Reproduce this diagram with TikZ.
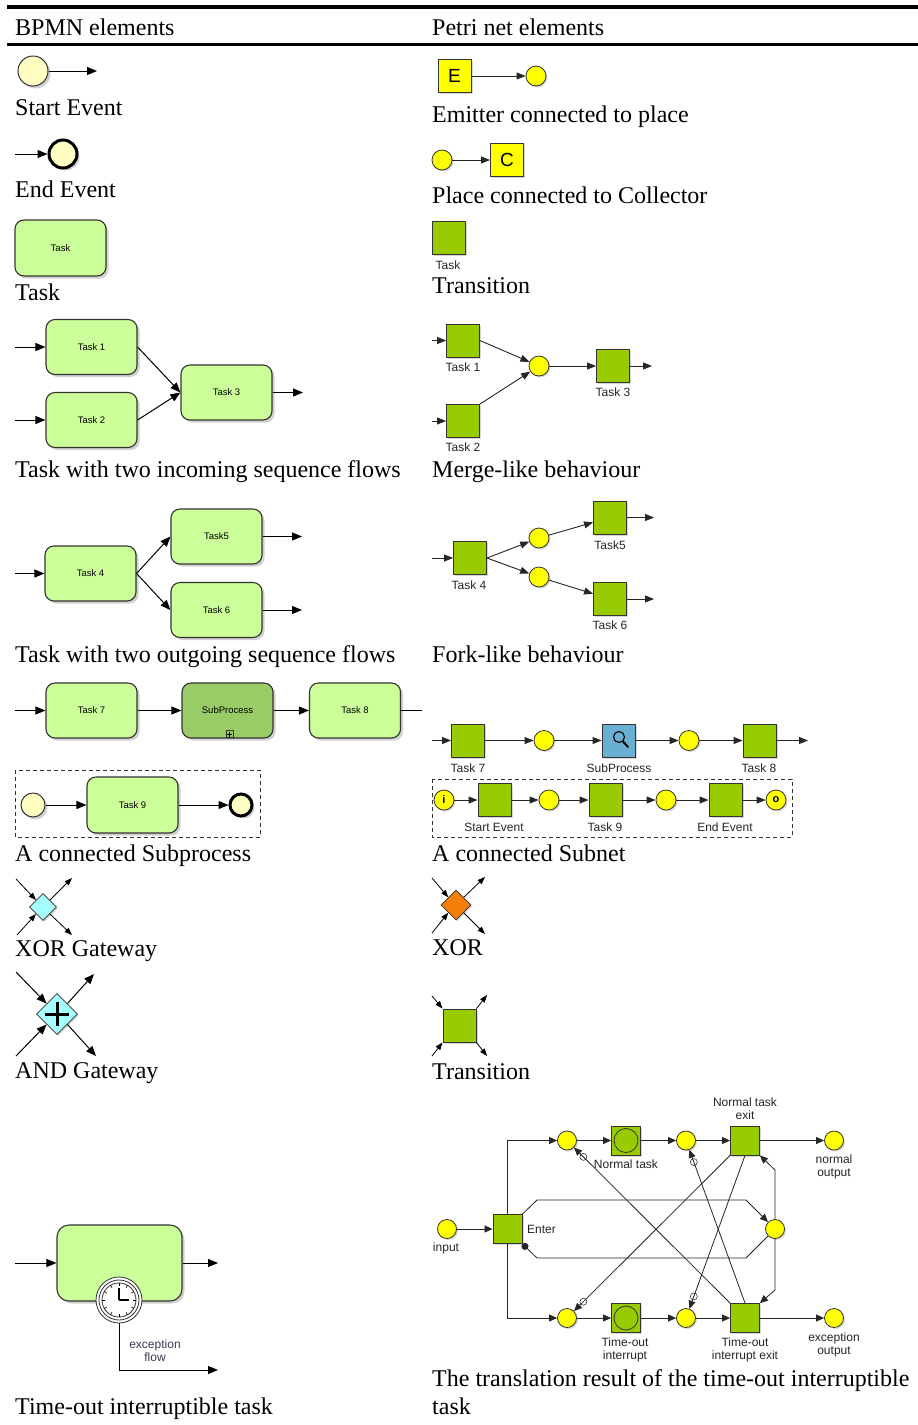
\documentclass[tikz,border=0pt]{standalone}
\usepackage{fontspec}
\setmainfont{Liberation Serif}
\newfontfamily\arialf{Liberation Sans}
\usetikzlibrary{arrows.meta,shapes.geometric,shadows}
\definecolor{bpmntask}{HTML}{CCFF99}
\definecolor{bpmnsub}{HTML}{99CC66}
\definecolor{evfill}{HTML}{FFFFC4}
\definecolor{pgreen}{HTML}{99CC00}
\definecolor{pyellow}{HTML}{FFFF00}
\definecolor{pblue}{HTML}{6AAED2}
\definecolor{gwcyan}{HTML}{A6FFFF}
\definecolor{xororange}{HTML}{F57F0A}
\definecolor{edgec}{HTML}{333333}
\definecolor{lblue}{HTML}{3A3A55}
\tikzset{
  captxt/.style={anchor=base west, inner sep=0pt, font={\fontsize{24}{28}\selectfont}},
  shd/.style={drop shadow={shadow xshift=2.5pt, shadow yshift=-2.5pt, opacity=0.3, fill=black!60}},
  sshd/.style={drop shadow={shadow xshift=1.5pt, shadow yshift=-1.5pt, opacity=0.25, fill=black!60}},
  btask/.style={rectangle, rounded corners=9pt, draw=edgec, line width=1.1pt, fill=bpmntask, minimum width=91pt, minimum height=55pt, inner sep=0pt, font={\arialf\fontsize{9.5}{11}\selectfont}, shd},
  event/.style={circle, draw=edgec, line width=1pt, fill=evfill, inner sep=0pt, minimum size=30pt, shd},
  place/.style={circle, draw=edgec, line width=0.8pt, fill=pyellow, inner sep=0pt, minimum size=20pt, sshd},
  trans/.style={rectangle, draw=edgec, line width=0.9pt, fill=pgreen, inner sep=0pt, minimum size=33pt, sshd},
  plab/.style={inner sep=0pt, align=center, font={\arialf\fontsize{12}{13}\selectfont}, text=black!85},
  arr/.style={-{Triangle[length=10pt,width=8pt]}, line width=1pt, draw=black},
  sarr/.style={-{Triangle[length=7.5pt,width=5.5pt]}, line width=0.8pt, draw=black},
  parr/.style={-{Triangle[length=9pt,width=7pt]}, line width=0.9pt, draw=black!85},
  narr/.style={-{Triangle[length=8pt,width=7pt]}, line width=0.8pt, draw=black!85},
  mk/.style={circle, draw=edgec, inner sep=0pt, minimum size=7pt, line width=0.6pt},
  gwbox/.style={diamond, aspect=1, draw=edgec, line width=0.8pt, inner sep=0pt, sshd},
}
\begin{document}
\begin{tikzpicture}[x=1pt,y=-1pt]
\useasboundingbox (0,0) rectangle (918,1425);
\fill[white] (0,0) rectangle (918,1425);
% header
\draw[line width=4pt] (7,7) -- (918,7);
\draw[line width=2.5pt] (7,44.5) -- (918,44.5);
\node[captxt] (hl) at (15,35) {BPMN elements};
\node[captxt] (hr) at (432,35) {Petri net elements};

% ---------- Start / End / Task (BPMN)
\node[event] (se) at (33,71) {};
\coordinate (seo) at (97,71);
\draw[arr] (se) -- (seo);
\node[captxt] (cse) at (15,115) {Start Event};
\coordinate (eei) at (15,154);
\node[event, minimum size=28pt, line width=3pt, draw=black] (ee) at (63,154) {};
\draw[arr] (eei) -- (ee);
\node[captxt] (cee) at (15,197) {End Event};
\node[btask, minimum height=56pt] (tk) at (60.5,248) {Task};
\node[captxt] (ctk) at (15,300) {Task};

% ---------- Emitter / Collector / Transition (Petri)
\node[trans, fill=pyellow, font={\arialf\fontsize{19}{20}\selectfont}] (em) at (454.5,76) {E};
\node[place] (emp) at (536,76) {};
\draw[parr] (em) -- (emp);
\node[captxt] (cem) at (432,122) {Emitter connected to place};
\node[place] (cop) at (442,160) {};
\node[trans, fill=pyellow, font={\arialf\fontsize{19}{20}\selectfont}] (co) at (507,160) {C};
\draw[parr] (cop) -- (co);
\node[captxt] (cco) at (432,203) {Place connected to Collector};
\node[trans] (tr1) at (449,238) {};
\node[plab] (tr1l) at (448,265) {Task};
\node[captxt] (ctr1) at (432,293) {Transition};

% ---------- Merge (BPMN)
\node[btask] (m1) at (91.5,347) {Task 1};
\node[btask] (m2) at (91.5,420) {Task 2};
\node[btask] (m3) at (226.5,392.5) {Task 3};
\coordinate (m1i) at (15,347);
\coordinate (m2i) at (15,420);
\coordinate (m3o) at (303,392.5);
\draw[arr] (m1i) -- (m1);
\draw[arr] (m2i) -- (m2);
\draw[arr] (m1.east) -- (m3.west);
\draw[arr] (m2.east) -- (m3.west);
\draw[arr] (m3) -- (m3o);
\node[captxt] (cm) at (15,477) {Task with two incoming sequence flows};

% ---------- Merge (Petri)
\node[trans] (pm1) at (463,340.5) {};
\node[trans] (pm2) at (463,421) {};
\node[place] (pmp) at (539,366) {};
\node[trans] (pm3) at (613,366) {};
\node[plab] (pm1l) at (463,367) {Task 1};
\node[plab] (pm2l) at (463,447) {Task 2};
\node[plab] (pm3l) at (613,392) {Task 3};
\coordinate (pm1i) at (432,340.5);
\coordinate (pm2i) at (432,421);
\coordinate (pm3o) at (652,366);
\draw[parr] (pm1i) -- (pm1);
\draw[parr] (pm2i) -- (pm2);
\draw[parr] (pm1.east) -- (pmp);
\draw[parr] (pm2.north east) -- (pmp);
\draw[parr] (pmp) -- (pm3);
\draw[parr] (pm3) -- (pm3o);
\node[captxt] (cpm) at (432,477) {Merge-like behaviour};

% ---------- Fork (BPMN)
\node[btask] (f4) at (90.5,573.5) {Task 4};
\node[btask] (f5) at (216.5,536.5) {Task5};
\node[btask] (f6) at (216.5,610) {Task 6};
\coordinate (f4i) at (15,573.5);
\coordinate (f5o) at (302,536.5);
\coordinate (f6o) at (302,610);
\draw[arr] (f4i) -- (f4);
\draw[arr] (f4.east) -- (f5.west);
\draw[arr] (f4.east) -- (f6.west);
\draw[arr] (f5) -- (f5o);
\draw[arr] (f6) -- (f6o);
\node[captxt] (cf) at (15,662) {Task with two outgoing sequence flows};

% ---------- Fork (Petri)
\node[trans] (pf4) at (470,558) {};
\node[place] (pf1) at (539,538) {};
\node[place] (pf2) at (539,577) {};
\node[trans] (pf5) at (610,517.5) {};
\node[trans] (pf6) at (610,599) {};
\node[plab] (pf4l) at (469,585) {Task 4};
\node[plab] (pf5l) at (610,545) {Task5};
\node[plab] (pf6l) at (610,625) {Task 6};
\coordinate (pf4i) at (432,558);
\coordinate (pf5o) at (654,517.5);
\coordinate (pf6o) at (654,599);
\draw[parr] (pf4i) -- (pf4);
\draw[parr] (pf4.east) -- (pf1);
\draw[parr] (pf4.east) -- (pf2);
\draw[parr] (pf1) -- (pf5);
\draw[parr] (pf2) -- (pf6);
\draw[parr] (pf5) -- (pf5o);
\draw[parr] (pf6) -- (pf6o);
\node[captxt] (cpf) at (432,662) {Fork-like behaviour};

% ---------- Subprocess (BPMN)
\node[btask] (s7) at (91.5,710.5) {Task 7};
\node[btask, fill=bpmnsub] (ssp) at (227.5,710.5) {SubProcess};
\node[btask] (s8) at (355,710.5) {Task 8};
\node[draw=edgec, line width=0.6pt, minimum size=7pt, inner sep=0pt] (splus) at (229.5,734) {};
\draw[line width=0.6pt] (227,734) -- (232,734) (229.5,731.5) -- (229.5,736.5);
\coordinate (s7i) at (15,710.5);
\coordinate (s8o) at (422,710.5);
\draw[arr] (s7i) -- (s7);
\draw[arr] (s7) -- (ssp);
\draw[arr] (ssp) -- (s8);
\draw[line width=1pt] (s8) -- (s8o);
\draw[edgec, line width=0.7pt, dash pattern=on 4pt off 3pt] (15,770) rectangle (260,837);
\node[event, minimum size=24pt] (sse) at (33,805) {};
\node[btask, minimum height=56pt] (s9) at (132.5,805) {Task 9};
\node[event, minimum size=22pt, line width=3pt, draw=black] (see) at (241,805) {};
\draw[arr] (sse) -- (s9);
\draw[arr] (s9) -- (see);
\node[captxt] (cs) at (15,861) {A connected Subprocess};

% ---------- Subnet (Petri)
\node[trans] (n7) at (468,740.5) {};
\node[place] (np1) at (544,740.5) {};
\node[trans, fill=pblue] (nsp) at (618.5,740.5) {};
\draw[line width=1.1pt] (619,737) circle[radius=5.5pt];
\draw[line width=2pt, line cap=round] (623,741.5) -- (628,747);
\node[place] (np2) at (689,740.5) {};
\node[trans] (n8) at (759.5,740.5) {};
\node[plab] (n7l) at (468,768) {Task 7};
\node[plab] (nspl) at (619,768) {SubProcess};
\node[plab] (n8l) at (759,768) {Task 8};
\coordinate (n7i) at (432,740.5);
\coordinate (n8o) at (808,740.5);
\draw[parr] (n7i) -- (n7);
\draw[parr] (n7) -- (np1);
\draw[parr] (np1) -- (nsp);
\draw[parr] (nsp) -- (np2);
\draw[parr] (np2) -- (n8);
\draw[parr] (n8) -- (n8o);
\draw[edgec, line width=0.7pt, dash pattern=on 4pt off 3pt] (432,779) rectangle (792,837);
\node[place, font={\arialf\bfseries\fontsize{11}{12}\selectfont}] (npi) at (444,800) {i};
\node[trans] (nse) at (494.5,800) {};
\node[place] (np3) at (549,800) {};
\node[trans] (n9) at (605.5,800) {};
\node[place] (np4) at (666,800) {};
\node[trans] (nee) at (725.5,800) {};
\node[place, font={\arialf\bfseries\fontsize{11}{12}\selectfont}] (npo) at (776,800) {o};
\node[plab] (nsel) at (494,827) {Start Event};
\node[plab] (n9l) at (605,827) {Task 9};
\node[plab] (neel) at (725,827) {End Event};
\draw[parr] (npi) -- (nse);
\draw[parr] (nse) -- (np3);
\draw[parr] (np3) -- (n9);
\draw[parr] (n9) -- (np4);
\draw[parr] (np4) -- (nee);
\draw[parr] (nee) -- (npo);
\node[captxt] (cn) at (432,861) {A connected Subnet};

% ---------- XOR gateway (BPMN)
\node[gwbox, fill=gwcyan, minimum size=27pt] (xg) at (43,907) {};
\coordinate (xg1) at (16,879);
\coordinate (xg2) at (17,935);
\coordinate (xg3) at (72,878);
\coordinate (xg4) at (72,935);
\draw[sarr] (xg1) -- (xg.north west);
\draw[sarr] (xg2) -- (xg.south west);
\draw[sarr] (xg.north east) -- (xg3);
\draw[sarr] (xg.south east) -- (xg4);
\node[captxt] (cxg) at (15,956) {XOR Gateway};

% ---------- AND gateway (BPMN)
\node[gwbox, fill=gwcyan, minimum size=41pt] (ag) at (57,1014) {};
\draw[line width=3pt] (45,1014) -- (69,1014) (57,1002) -- (57,1026);
\coordinate (ag1) at (16,972);
\coordinate (ag2) at (16,1056);
\coordinate (ag3) at (94,974);
\coordinate (ag4) at (96,1056);
\draw[arr] (ag1) -- (ag.north west);
\draw[arr] (ag2) -- (ag.south west);
\draw[arr] (ag.north east) -- (ag3);
\draw[arr] (ag.south east) -- (ag4);
\node[captxt] (cag) at (15,1078) {AND Gateway};

% ---------- XOR (Petri)
\node[gwbox, fill=xororange, minimum size=30pt] (px) at (456,905) {};
\coordinate (px1) at (432,878);
\coordinate (px2) at (432,933);
\coordinate (px3) at (485,877);
\coordinate (px4) at (485,934);
\draw[sarr] (px1) -- (px.north west);
\draw[sarr] (px2) -- (px.south west);
\draw[sarr] (px.north east) -- (px3);
\draw[sarr] (px.south east) -- (px4);
\node[captxt] (cpx) at (432,955) {XOR};

% ---------- Transition (Petri)
\node[trans] (tr2) at (459.5,1025.5) {};
\coordinate (tr2a) at (432,996);
\coordinate (tr2b) at (432,1056);
\coordinate (tr2c) at (487,995);
\coordinate (tr2d) at (487,1056);
\draw[sarr] (tr2a) -- (tr2.north west);
\draw[sarr] (tr2b) -- (tr2.south west);
\draw[sarr] (tr2.north east) -- (tr2c);
\draw[sarr] (tr2.south east) -- (tr2d);
\node[captxt] (ctr2) at (432,1079) {Transition};

% ---------- Time-out interruptible task (BPMN)
\node[btask, rounded corners=12pt, minimum width=125pt, minimum height=76pt] (tt) at (119.5,1263) {};
\coordinate (tti) at (15,1263);
\coordinate (tto) at (218,1263);
\draw[arr] (tti) -- (tt);
\draw[arr] (tt) -- (tto);
\node[circle, draw=edgec, fill=white, line width=0.8pt, minimum size=46pt, inner sep=0pt] (tmr) at (119,1300) {};
\draw[edgec, line width=0.8pt] (tmr.center) circle[radius=20pt];
\draw[edgec, line width=0.8pt] (tmr.center) circle[radius=17pt];
\foreach \a in {0,30,...,330} \draw[line width=0.6pt] (tmr.center) ++(\a:14pt) -- ++(\a:3pt);
\draw[line width=1.3pt] (tmr.center) -- ++(0,-12);
\draw[line width=1.3pt] (tmr.center) -- ++(10,0);
\coordinate (exc) at (119,1370);
\coordinate (exo) at (218,1370);
\draw[arr] (tmr.south) -- (exc) -- (exo);
\node[plab, text=lblue] (excl) at (155,1351) {exception\\flow};
\node[captxt] (ctt) at (15,1414) {Time-out interruptible task};

% ---------- Time-out net (Petri)
\node[place, minimum size=19pt] (tin) at (447,1229) {};
\node[plab] (tinl) at (446,1248) {input};
\node[trans, minimum size=29pt] (ent) at (507.5,1229) {};
\node[plab, anchor=west] (entl) at (527,1229) {Enter};
\node[place, minimum size=19pt] (q1) at (567,1140.5) {};
\node[trans, minimum size=29pt] (nt) at (626,1140.5) {};
\node[circle, draw=edgec, line width=0.8pt, minimum size=24pt, inner sep=0pt] (ntc) at (626,1140.5) {};
\node[plab] (ntl) at (626,1164) {Normal task};
\node[place, minimum size=19pt] (q2) at (686,1140.5) {};
\node[trans, minimum size=29pt] (nte) at (745,1140.5) {};
\node[plab] (ntel) at (745,1108.5) {Normal task\\exit};
\node[place, minimum size=19pt] (qno) at (834,1140.5) {};
\node[plab] (qnol) at (834,1166.5) {normal\\output};
\node[place, minimum size=19pt] (q3) at (567,1318) {};
\node[trans, minimum size=29pt] (ti) at (626,1318) {};
\node[circle, draw=edgec, line width=0.8pt, minimum size=24pt, inner sep=0pt] (tic) at (626,1318) {};
\node[plab] (til) at (625,1349.5) {Time-out\\interrupt};
\node[place, minimum size=19pt] (q4) at (686,1318) {};
\node[trans, minimum size=29pt] (tie) at (745,1318) {};
\node[plab] (tiel) at (745,1350) {Time-out\\interrupt exit};
\node[place, minimum size=19pt] (qeo) at (834,1318) {};
\node[plab] (qeol) at (834,1344.5) {exception\\output};
\node[place, minimum size=19pt] (q5) at (775,1229) {};
\draw[narr] (tin) -- (ent);
\draw[narr] (ent.north) |- (q1);
\draw[narr] (ent.south) |- (q3);
\draw[narr] (q1) -- (nt);
\draw[narr] (nt) -- (q2);
\draw[narr] (q2) -- (nte);
\draw[narr] (nte) -- (qno);
\draw[narr] (q3) -- (ti);
\draw[narr] (ti) -- (q4);
\draw[narr] (q4) -- (tie);
\draw[narr] (tie) -- (qeo);
\coordinate (h1) at (537,1200);
\coordinate (h2) at (746,1200);
\coordinate (h3) at (746,1258);
\coordinate (h4) at (537,1258);
\draw[narr] (ent.north east) -- (h1) -- (h2) -- (q5);
\draw[-{Circle[length=7pt]}, line width=0.8pt, draw=black!85] (q5) -- (h3) -- (h4) -- (ent.south east);
\coordinate (v1) at (775,1170);
\coordinate (v2) at (775,1290);
\draw[narr] (q5.north) -- (v1) -- (nte.south east);
\draw[narr] (q5.south) -- (v2) -- (tie.north east);
\draw[narr] (nte.south west) -- node[mk, pos=0.94] (mk1) {} (q3);
\draw[narr] (nte.south) -- node[mk, pos=0.92] (mk2) {} (q4);
\draw[narr] (tie.north west) -- node[mk, pos=0.94] (mk3) {} (q1);
\draw[narr] (tie.north) -- node[mk, pos=0.92] (mk4) {} (q2);
\node[captxt] (ctn1) at (432,1386) {The translation result of the time-out interruptible};
\node[captxt] (ctn2) at (432,1414) {task};
\end{tikzpicture}
\end{document}
